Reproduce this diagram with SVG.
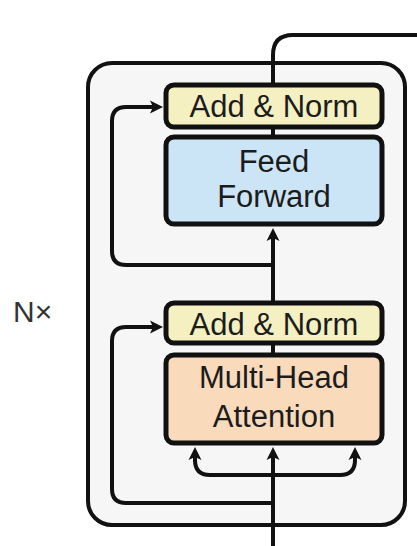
<svg xmlns="http://www.w3.org/2000/svg" width="417" height="546" viewBox="0 0 417 546">
<style>
.box{stroke:#111;stroke-width:5}
.an{fill:#f4f0c2}
.ff{fill:#cbe5f6}
.mha{fill:#f9dabb}
.lbl{font-family:"Liberation Sans",Arial,Helvetica,sans-serif;font-size:31px;fill:#1c1c1c;text-anchor:middle}
.ln{fill:none;stroke:#111;stroke-width:4;stroke-linejoin:round}
</style>
<defs>
<marker id="ah" viewBox="-1 -8 16 16" refX="4" refY="0" markerWidth="16" markerHeight="16" markerUnits="userSpaceOnUse" orient="auto">
<path d="M0,-6.5 L13,0 L0,6.5 L3,0 z" fill="#111"/>
</marker>
</defs>
<rect width="417" height="546" fill="#fff"/>
<g id="layer-block">
<rect x="88" y="63" width="317" height="462" rx="24" fill="#f6f6f6" stroke="#111" stroke-width="4"/>
</g>
<g id="nx-label">
<text x="13" y="322" font-family="Liberation Sans,Arial,sans-serif" font-size="30" fill="#333">N×</text>
</g>
<g id="connectors">
<path class="ln" d="M273,546 V456" marker-end="url(#ah)"/>
<path class="ln" d="M195,460 Q195,475 210,475 H340 Q355,475 355,460 V456" marker-end="url(#ah)"/>
<path class="ln" d="M195,462 V456" marker-end="url(#ah)"/>
<path class="ln" d="M273,355 V343"/>
<path class="ln" d="M273,303 V237" marker-end="url(#ah)"/>
<path class="ln" d="M273,137 V127"/>
<path class="ln" d="M273,85 V55 Q273,35 293,35 H417"/>
<path class="ln" d="M273,503 H126 Q112,503 112,489 V341 Q112,327 126,327 H154" marker-end="url(#ah)"/>
<path class="ln" d="M273,265 H126 Q112,265 112,251 V121 Q112,107 126,107 H154" marker-end="url(#ah)"/>
</g>
<g id="add-norm-top">
<rect class="box an" x="166" y="85" width="216" height="42" rx="8"/>
<text class="lbl" x="274" y="117">Add &amp; Norm</text>
</g>
<g id="feed-forward">
<rect class="box ff" x="166" y="137" width="216" height="87" rx="8"/>
<text class="lbl" x="274" y="172">Feed</text>
<text class="lbl" x="274" y="207">Forward</text>
</g>
<g id="add-norm-bottom">
<rect class="box an" x="166" y="303" width="216" height="40" rx="8"/>
<text class="lbl" x="274" y="335">Add &amp; Norm</text>
</g>
<g id="multi-head-attention">
<rect class="box mha" x="166" y="355" width="216" height="88" rx="8"/>
<text class="lbl" x="274" y="388">Multi-Head</text>
<text class="lbl" x="274" y="427">Attention</text>
</g>
</svg>
